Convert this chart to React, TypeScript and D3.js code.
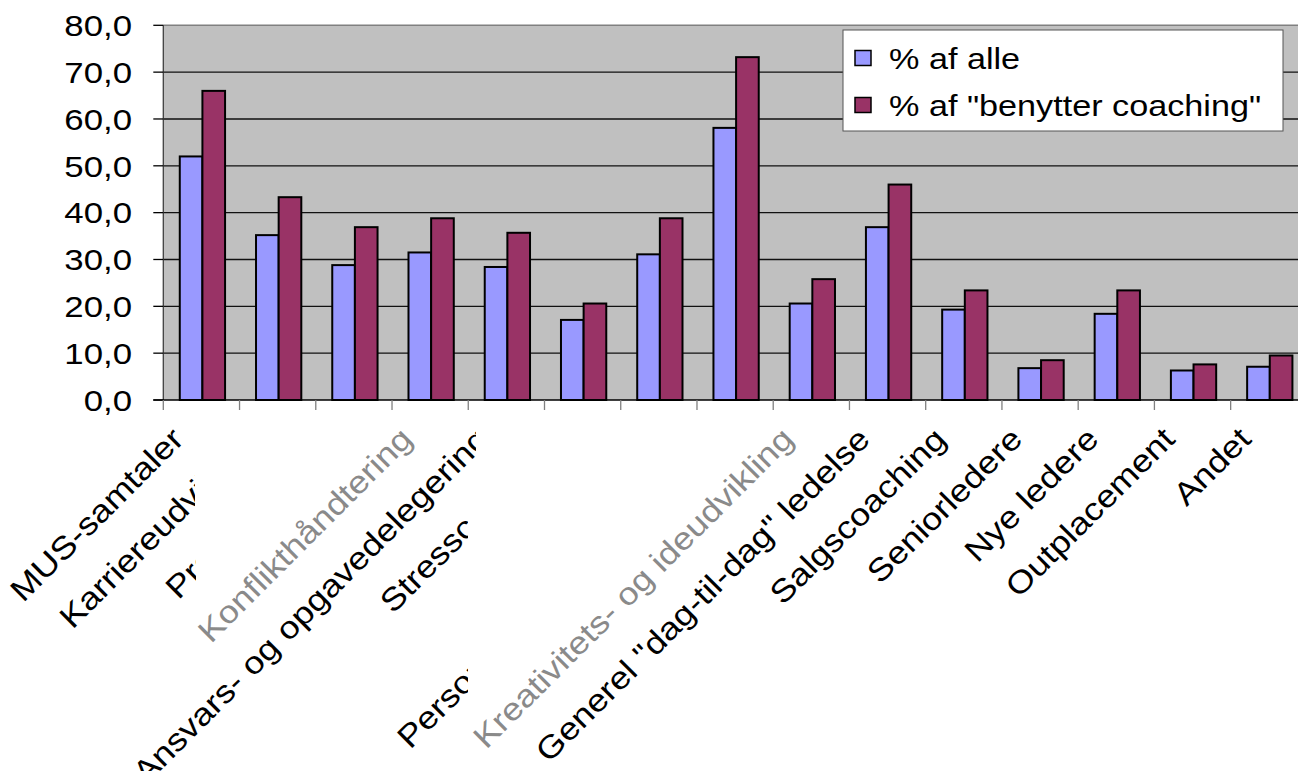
import React from "react";
import * as d3 from "d3";

const categories = [
  "MUS-samtaler",
  "Karriereudvikling",
  "Projektledelse",
  "Konflikthåndtering",
  "Ansvars- og opgavedelegering",
  "Stresscoaching",
  "Teamudvikling",
  "Personlig udvikling & trivsel",
  "Kreativitets- og ideudvikling",
  'Generel "dag-til-dag" ledelse',
  "Salgscoaching",
  "Seniorledere",
  "Nye ledere",
  "Outplacement",
  "Andet",
];
const pctAlle = [52.0, 35.2, 28.8, 31.5, 28.4, 17.1, 31.1, 58.1, 20.6, 36.9, 19.3, 6.8, 18.4, 6.3, 7.1];
const pctCoach = [66.0, 43.3, 36.9, 38.8, 35.7, 20.6, 38.8, 73.2, 25.8, 46.0, 23.4, 8.5, 23.4, 7.6, 9.5];
const seriesNames = ["% af alle", '% af "benytter coaching"'];
const yTicks = [0, 10, 20, 30, 40, 50, 60, 70, 80];

// rendering quirks of the original picture: clipped and faded axis labels
const labelClipRight: (number | null)[] = [null, 195, 196, null, 476, 468, 0, 468, null, null, null, null, null, null, null];
const labelFaded = [false, false, false, true, false, false, false, false, true, false, false, false, false, false, false];

const FONT = "'Liberation Sans', Arial, sans-serif";
const BLUE = "#9999FF";
const PLUM = "#993366";

export default function App() {
  const W = 1298;
  const H = 771;
  const left = 163.3;
  const top = 25.3;
  const bottom = 400;
  const band = 76.24;
  const x = d3
    .scaleBand<string>()
    .domain(categories)
    .range([left, left + band * categories.length])
    .padding(0);
  const y = d3.scaleLinear().domain([0, 80]).range([bottom, top]);
  const bw = x.bandwidth();
  const barW = bw * 0.297;
  const off = (bw - 2 * barW) / 2 + 1;
  const fmt = (v: number) => v.toFixed(1).replace(".", ",");
  const plotRight = left + band * categories.length;
  const series = [pctAlle, pctCoach];
  const colors = [BLUE, PLUM];

  return (
    <svg
      width={W}
      height={H}
      style={{ position: "absolute", left: 0, top: 0, background: "#fff" }}
      fontFamily={FONT}
    >
      <defs>
        {categories.map((c, i) =>
          labelClipRight[i] !== null ? (
            <clipPath id={`lc${i}`} key={c}>
              <rect x={0} y={0} width={labelClipRight[i] as number} height={H} />
            </clipPath>
          ) : null
        )}
      </defs>
      {/* plot area */}
      <rect x={left} y={top} width={plotRight - left} height={bottom - top} fill="#C0C0C0" />
      {yTicks.slice(1, -1).map((t) => (
        <line key={t} x1={left} x2={plotRight} y1={y(t)} y2={y(t)} stroke="#111" strokeWidth={1.3} />
      ))}
      <line x1={left} x2={plotRight} y1={top} y2={top} stroke="#808080" strokeWidth={1.5} />
      {/* bars */}
      {series.map((s, si) =>
        s.map((v, i) => (
          <rect
            key={`${si}-${i}`}
            x={(x(categories[i]) as number) + off + si * barW}
            y={y(v)}
            width={barW}
            height={bottom - y(v)}
            fill={colors[si]}
            stroke="#000"
            strokeWidth={2}
          />
        ))
      )}
      {/* axes */}
      <line x1={left} x2={left} y1={top} y2={bottom} stroke="#404040" strokeWidth={1.3} />
      <line x1={left - 10} x2={plotRight} y1={bottom} y2={bottom} stroke="#000" strokeWidth={1.5} />
      {yTicks.map((t) => (
        <g key={t}>
          <line x1={left - 10} x2={left} y1={y(t)} y2={y(t)} stroke="#000" strokeWidth={1.3} />
          <text
            transform={`translate(132,${y(t)}) scale(1.16,1)`}
            textAnchor="end"
            dy="0.36em"
            fontSize={30}
            fill="#000"
          >
            {fmt(t)}
          </text>
        </g>
      ))}
      {d3.range(categories.length + 1).map((k) => (
        <line
          key={k}
          x1={left + k * bw}
          x2={left + k * bw}
          y1={bottom}
          y2={bottom + 10}
          stroke="#808080"
          strokeWidth={1.3}
        />
      ))}
      {/* category labels */}
      {categories.map((c, i) => {
        const cx = (x(c) as number) + bw / 2 - 16;
        const cy = 441;
        return (
          <g key={c} clipPath={labelClipRight[i] !== null ? `url(#lc${i})` : undefined}>
            <text
              transform={`translate(${cx},${cy}) rotate(-45) scale(1.14,1)`}
              textAnchor="end"
              fontSize={31.5}
              fill={labelFaded[i] ? "#8a8a8a" : "#000"}
            >
              {c}
            </text>
          </g>
        );
      })}
      {/* legend */}
      <rect x={843} y={30} width={440} height={101} fill="#fff" stroke="#555" strokeWidth={1} />
      {seriesNames.map((n, i) => (
        <g key={n} transform={`translate(855,${58 + i * 47})`}>
          <rect x={0} y={-7.5} width={16} height={15} fill={colors[i]} stroke="#000" strokeWidth={1.5} />
          <text transform="translate(34,0) scale(1.14,1)" dy="0.36em" fontSize={30} fill="#000">
            {n}
          </text>
        </g>
      ))}
    </svg>
  );
}
